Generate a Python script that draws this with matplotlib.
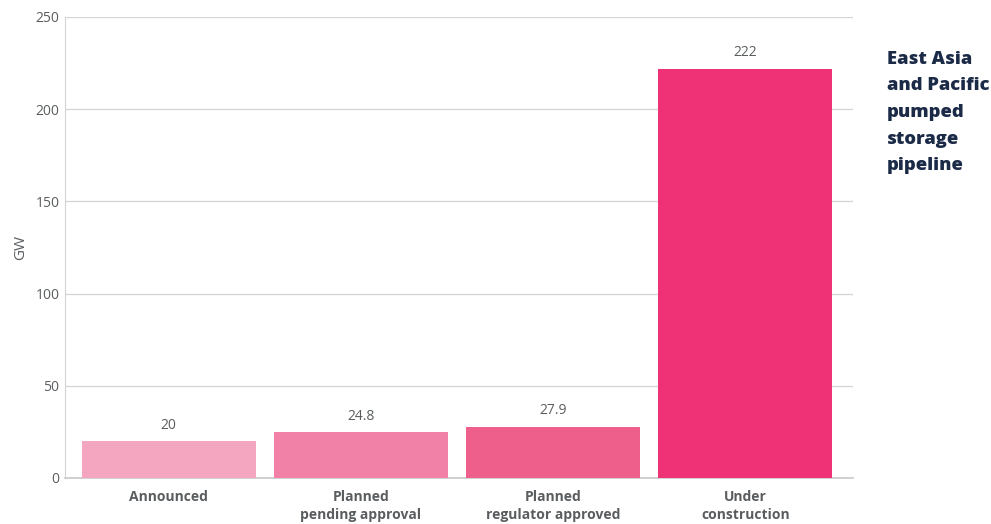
import matplotlib
matplotlib.use("Agg")
import matplotlib.pyplot as plt

categories = ["Announced", "Planned\npending approval", "Planned\nregulator approved", "Under\nconstruction"]
values = [20, 24.8, 27.9, 222]
value_labels = ["20", "24.8", "27.9", "222"]
bar_colors = ["#F4A6C0", "#F181A6", "#EF5F8C", "#EE3275"]
y_ticks = [0, 50, 100, 150, 200, 250]
title = "East Asia\nand Pacific\npumped\nstorage\npipeline"

plt.rcParams["font.family"] = ["Open Sans", "DejaVu Sans"]
text_gray = "#5A5D5F"

fig = plt.figure(figsize=(9.91, 5.24), dpi=100)
ax = fig.add_axes([0.0656, 0.0878, 0.7952, 0.8798])

x = list(range(len(categories)))
ax.bar(x, values, width=0.905, color=bar_colors, zorder=3)

for xi, v, lab in zip(x, values, value_labels):
    ax.annotate(lab, (xi, v), xytext=(0, 6), textcoords="offset points",
                ha="center", va="bottom", fontsize=10, color=text_gray)

ax.set_xlim(-0.54, 3.56)
ax.set_ylim(0, 250)
ax.set_yticks(y_ticks)
ax.set_yticklabels([str(t) for t in y_ticks], fontsize=10, color=text_gray)
ax.set_xticks(x)
ax.set_xticklabels(categories, fontsize=10, fontweight="bold", color=text_gray,
                   linespacing=1.3)
ax.tick_params(axis="both", length=0)
ax.tick_params(axis="y", pad=4)
ax.tick_params(axis="x", pad=9)
ax.set_ylabel("GW", fontsize=11, color=text_gray, labelpad=5)

ax.grid(axis="y", color="#D4D4D4", linewidth=0.9, zorder=0)
for side in ["top", "right"]:
    ax.spines[side].set_visible(False)
ax.spines["left"].set_color("#D4D4D4")
ax.spines["bottom"].set_color("#C8C8C8")
ax.spines["bottom"].set_linewidth(1.2)

fig.text(0.895, 0.903, title, fontsize=13.2, fontweight="heavy", color="#1B2A47",
         ha="left", va="top", linespacing=1.74)

fig.savefig("out.png", dpi=100)
